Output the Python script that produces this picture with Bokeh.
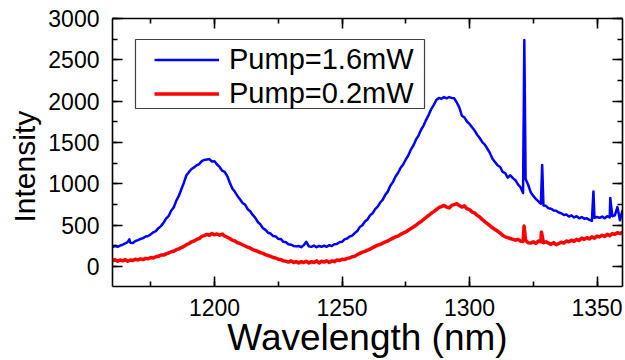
import numpy as np
from bokeh.plotting import figure
from bokeh.models import (LinearAxis, SingleIntervalTicker, Range1d, Legend,
                          LegendItem, BoxAnnotation, ColumnDataSource, Title,
                          CustomJSTickFormatter)
from bokeh.embed import file_html
from bokeh.resources import INLINE

FONT = "Liberation Sans"

# ---- data ----
wavelength_start = 1160
wavelength_stop = 1360

blue_label = "Pump=1.6mW"
blue_base = [
    235, 250, 240, 255, 265, 280, 300, 290, 285, 310,
    320, 335, 345, 365, 370, 390, 415, 430, 465, 490,
    530, 580, 610, 675, 715, 795, 855, 935, 1015, 1105,
    1145, 1180, 1200, 1225, 1240, 1275, 1290, 1295, 1300, 1270,
    1275, 1235, 1205, 1160, 1145, 1095, 1015, 945, 905, 855,
    815, 770, 750, 695, 670, 625, 590, 540, 510, 465,
    445, 410, 400, 370, 365, 335, 335, 300, 295, 270,
    265, 250, 245, 250, 235, 260, 300, 245, 240, 255,
    235, 250, 240, 255, 240, 260, 250, 270, 275, 295,
    300, 330, 340, 365, 375, 405, 430, 480, 500, 545,
    570, 620, 645, 695, 725, 775, 810, 870, 910, 980,
    1025, 1090, 1135, 1195, 1235, 1295, 1345, 1415, 1465, 1535,
    1585, 1655, 1705, 1775, 1835, 1905, 1955, 2015, 2040, 2030,
    2050, 2035, 2050, 2040, 2035, 1985, 1925, 1825, 1805, 1755,
    1725, 1685, 1645, 1595, 1555, 1505, 1475, 1425, 1375, 1305,
    1265, 1225, 1205, 1145, 1130, 1075, 1105, 1070, 1045, 995,
    960, 890, 1060, 990, 900, 855, 820, 790, 760, 740,
    735, 705, 700, 680, 675, 655, 645, 625, 630, 605,
    620, 595, 610, 585, 600, 580, 585, 565, 555, 590,
    600, 590, 605, 585, 610, 595, 610, 620, 720, 560,
    680,
]
blue_spike_wl = [1166.6, 1321.5, 1328.5, 1348.6, 1355.2]
blue_spike_val = [330, 2740, 1230, 910, 830]

red_label = "Pump=0.2mW"
red_base = [
    70, 85, 65, 80, 70, 85, 65, 80, 75, 90,
    80, 95, 85, 100, 95, 110, 105, 120, 125, 140,
    140, 155, 165, 180, 185, 205, 215, 230, 245, 265,
    280, 300, 310, 330, 340, 365, 375, 390, 380, 400,
    385, 395, 380, 395, 370, 355, 340, 320, 310, 290,
    280, 265, 250, 235, 225, 205, 195, 185, 170, 160,
    145, 135, 125, 110, 105, 90, 85, 70, 65, 55,
    70, 50, 60, 45, 60, 50, 65, 45, 60, 50,
    70, 45, 65, 55, 70, 50, 70, 60, 80, 75,
    90, 85, 100, 105, 120, 125, 145, 160, 175, 185,
    200, 210, 230, 245, 260, 270, 285, 300, 310, 330,
    345, 360, 370, 390, 405, 420, 440, 460, 480, 500,
    525, 545, 570, 595, 620, 645, 665, 690, 715, 725,
    740, 720, 710, 740, 750, 760, 740, 720, 735, 700,
    690, 660, 650, 620, 600, 570, 545, 520, 495, 470,
    450, 430, 405, 380, 360, 350, 340, 330, 320, 330,
    310, 305, 320, 290, 285, 300, 280, 310, 300, 290,
    300, 285, 270, 290, 265, 280, 295, 285, 310, 300,
    320, 305, 330, 315, 345, 330, 350, 335, 360, 345,
    370, 360, 380, 365, 390, 375, 400, 390, 410, 400,
    415,
]
red_spike_wl = [1321.4, 1328.2]
red_spike_val = [490, 420]

x_ticks_interval = 50
y_ticks_interval = 500
x_label = "Wavelength (nm)"
y_label = "Intensity"


def series(base, spike_wl, spike_val):
    wl = np.arange(wavelength_start, wavelength_stop + 1, dtype=float)
    xs = np.concatenate([wl, np.array(spike_wl, dtype=float)])
    ys = np.concatenate([np.array(base, dtype=float), np.array(spike_val, dtype=float)])
    order = np.argsort(xs, kind="stable")
    return ColumnDataSource(dict(x=xs[order], y=ys[order]))


blue_src = series(blue_base, blue_spike_wl, blue_spike_val)
red_src = series(red_base, red_spike_wl, red_spike_val)

p = figure(width=625, height=360,
           x_range=Range1d(1160, 1360), y_range=Range1d(-240, 3000),
           output_backend="svg", toolbar_location=None,
           min_border_left=110, min_border_right=3,
           min_border_top=18, min_border_bottom=73,
           background_fill_color="white", border_fill_color="white")
p.outline_line_color = None
p.xgrid.visible = False
p.ygrid.visible = False

xt = SingleIntervalTicker(interval=x_ticks_interval, num_minor_ticks=2)
yt = SingleIntervalTicker(interval=y_ticks_interval, num_minor_ticks=2)
blank = CustomJSTickFormatter(code="return '';")


def style_axis(ax, show_labels=True):
    ax.axis_line_color = "black"
    ax.axis_line_width = 1.6
    ax.major_tick_in = 10
    ax.major_tick_out = 0
    ax.minor_tick_in = 5
    ax.minor_tick_out = 0
    ax.major_tick_line_color = "black"
    ax.minor_tick_line_color = "black"
    ax.major_tick_line_width = 1.6
    ax.minor_tick_line_width = 1.6
    ax.major_label_text_font = FONT
    ax.major_label_text_color = "black"
    ax.major_label_text_font_size = "23px"
    if not show_labels:
        ax.formatter = blank
        ax.major_label_standoff = 0


p.xaxis.ticker = xt
p.yaxis.ticker = yt
style_axis(p.xaxis[0])
style_axis(p.yaxis[0])
p.xaxis[0].major_label_standoff = 12
p.yaxis[0].major_label_standoff = 13

p.xaxis[0].axis_label = x_label
p.xaxis[0].axis_label_text_font = FONT
p.xaxis[0].axis_label_text_font_size = "37px"
p.xaxis[0].axis_label_text_font_style = "normal"
p.xaxis[0].axis_label_text_color = "black"
p.xaxis[0].axis_label_standoff = -2

top_ax = LinearAxis(ticker=xt)
style_axis(top_ax, show_labels=False)
p.add_layout(top_ax, "above")
right_ax = LinearAxis(ticker=yt)
style_axis(right_ax, show_labels=False)
p.add_layout(right_ax, "right")

r_blue = p.line("x", "y", source=blue_src, line_color="#0000FF", line_width=2.5,
                line_join="round")
r_red = p.line("x", "y", source=red_src, line_color="#FF0000", line_width=3.5,
               line_join="round")

# legend frame
box = BoxAnnotation(left=23, right=312, top=247, bottom=178,
                    left_units="screen", right_units="screen",
                    top_units="screen", bottom_units="screen",
                    fill_color="white", fill_alpha=1.0,
                    line_color="#404040", line_width=1.2, line_alpha=1.0)
p.add_layout(box)

legend = Legend(items=[LegendItem(label=blue_label, renderers=[r_blue]),
                       LegendItem(label=red_label, renderers=[r_red])],
                location=(42, 176), padding=0, spacing=1, margin=0,
                glyph_width=65, glyph_height=33, label_height=33,
                label_standoff=10, label_text_font=FONT,
                label_text_font_size="29px", label_text_color="black",
                border_line_alpha=0, background_fill_alpha=0)
p.add_layout(legend)

p.add_layout(Title(text=y_label, align="left", offset=64,
                   text_font=FONT, text_font_size="30px",
                   text_font_style="normal", text_color="black"), "left")

open("out.html", "w").write(file_html(p, INLINE))
